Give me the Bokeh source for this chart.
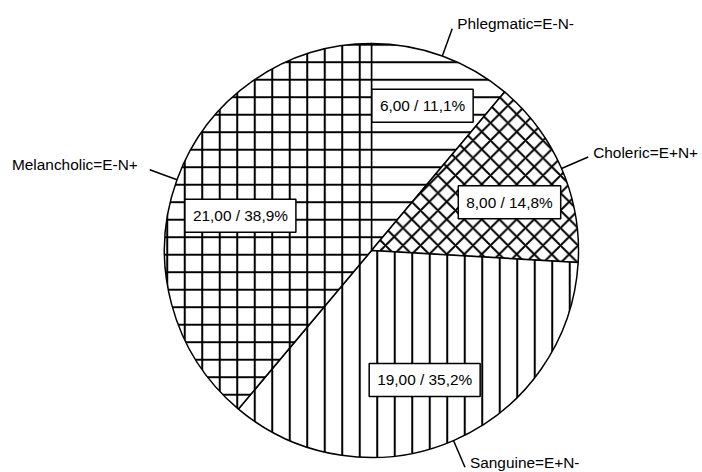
import math
from bokeh.plotting import figure
from bokeh.models import Range1d, Label, ColumnDataSource
from bokeh.embed import file_html
from bokeh.resources import INLINE

# ---- data ----
categories = ["Phlegmatic=E-N-", "Choleric=E+N+", "Sanguine=E+N-", "Melancholic=E-N+"]
values = [6, 8, 19, 21]

# ---- styles / layout ----
hatches = ["horizontal_line", "diagonal_cross", "vertical_line", "cross"]
W, H = 702, 472
CX, CY = 371, 222          # pie centre in data units (1 unit = 1 px)
R = 207                    # pie radius
LEADER = 29                # leader line length
BOX_R = [0.742, 0.706, 0.676, 0.655]   # radial position of value boxes (fraction of R)
BOX_DA = [0.6, -4.1, -1.0, 5.2]        # angular nudge of value boxes (degrees)
FONT = "Liberation Sans"
FSIZE = "15.4px"

total = float(sum(values))
starts, ends, mids = [], [], []
c = 0.0
for v in values:
    a0 = math.pi / 2 - 2 * math.pi * c / total
    c += v
    a1 = math.pi / 2 - 2 * math.pi * c / total
    starts.append(a0)
    ends.append(a1)
    mids.append((a0 + a1) / 2)

p = figure(width=W, height=H, output_backend="svg", toolbar_location=None,
           x_range=Range1d(0, W), y_range=Range1d(0, H),
           x_axis_type=None, y_axis_type=None, min_border=0,
           outline_line_color=None)
p.background_fill_color = "white"
p.border_fill_color = "white"

src = ColumnDataSource(dict(start=starts, end=ends, hatch=hatches, cat=categories, val=values))
p.wedge(x=CX, y=CY, radius=R, start_angle="start", end_angle="end", direction="clock",
        fill_color="white", line_color="black", line_width=1.5,
        hatch_pattern="hatch", hatch_scale=17.5, hatch_weight=2, hatch_color="black",
        source=src)

# leader lines + category labels
x0s, y0s, x1s, y1s = [], [], [], []
for cat, m in zip(categories, mids):
    cx, sy = math.cos(m), math.sin(m)
    xa, ya = CX + R * cx, CY + R * sy
    xb, yb = CX + (R + LEADER) * cx, CY + (R + LEADER) * sy
    x0s.append(xa); y0s.append(ya); x1s.append(xb); y1s.append(yb)
    right = cx >= 0
    ty = max(yb + 5, 9)
    p.add_layout(Label(x=xb + (5 if right else -12), y=ty, text=cat,
                       text_align="left" if right else "right", text_baseline="middle",
                       text_font=FONT, text_font_size=FSIZE, text_color="black"))
p.segment(x0=x0s, y0=y0s, x1=x1s, y1=y1s, line_color="black", line_width=1.5)

# value boxes
for v, m, fr, da in zip(values, mids, BOX_R, BOX_DA):
    pct = 100.0 * v / total
    txt = ("%.2f" % v).replace(".", ",") + " / " + ("%.1f" % pct).replace(".", ",") + "%"
    a = m + math.radians(da)
    p.add_layout(Label(x=CX + fr * R * math.cos(a), y=CY + fr * R * math.sin(a), text=txt,
                       text_align="center", text_baseline="middle",
                       text_font=FONT, text_font_size=FSIZE, text_color="black",
                       background_fill_color="white", border_line_color="black",
                       border_line_width=1.5, padding=8))

open("out.html", "w").write(file_html(p, INLINE))
